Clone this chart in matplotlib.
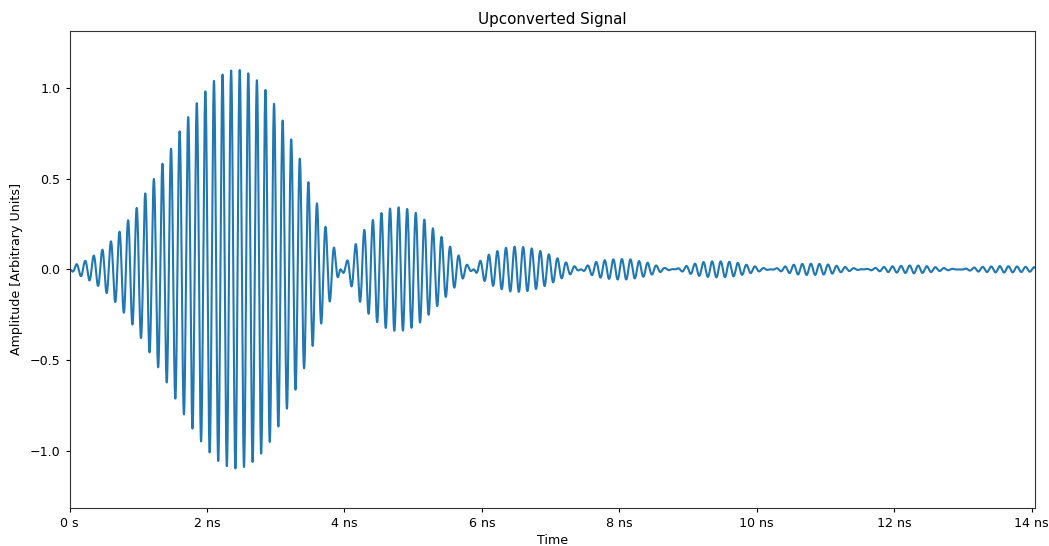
import numpy as np
import matplotlib
matplotlib.use("Agg")
import matplotlib.pyplot as plt
from matplotlib.ticker import EngFormatter

# Signed envelope of the upconverted pulse (time in ns)
env_t_ns = [0.00, 0.09, 0.22, 0.34, 0.47, 0.59, 0.72, 0.84, 0.97, 1.09, 1.22,
            1.35, 1.48, 1.60, 1.73, 1.85, 1.98, 2.10, 2.23, 2.35, 2.47, 2.60,
            2.72, 2.85, 2.97, 3.10, 3.22, 3.35, 3.47, 3.60, 3.72, 3.85, 3.94,
            4.04, 4.16, 4.28, 4.41, 4.54, 4.66, 4.79, 4.91, 5.04, 5.16, 5.28,
            5.41, 5.53, 5.66, 5.78, 5.88,
            5.97, 6.10, 6.22, 6.35, 6.48, 6.61, 6.73, 6.86, 6.98, 7.11, 7.23,
            7.36, 7.44,
            7.53, 7.65, 7.78, 7.91, 8.03, 8.16, 8.28, 8.41, 8.53, 8.66, 8.80,
            8.97, 9.09, 9.22, 9.35, 9.47, 9.59, 9.71, 9.83, 9.95, 10.10, 10.21,
            10.44, 10.56, 10.69, 10.81, 10.93, 11.06, 11.19, 11.34, 11.54,
            11.89, 12.04, 12.28, 12.40, 12.52, 12.64, 12.94,
            13.24, 13.54, 13.68, 13.97, 14.05]
env_val = [0.000, 0.027, 0.046, 0.073, 0.106, 0.150, 0.205, 0.265, 0.335, 0.412,
           0.494, 0.582, 0.668, 0.760, 0.842, 0.916, 0.983, 1.038, 1.075, 1.095,
           1.099, 1.080, 1.044, 0.989, 0.916, 0.820, 0.720, 0.610, 0.485, 0.363,
           0.238, 0.119, 0.000,
           -0.049, -0.137, -0.214, -0.271, -0.311, -0.335, -0.342, -0.333,
           -0.311, -0.275, -0.229, -0.180, -0.128, -0.077, -0.027, 0.000,
           0.046, 0.081, 0.100, 0.119, 0.125, 0.123, 0.115, 0.100, 0.082, 0.059,
           0.037, 0.015, 0.000,
           -0.020, -0.040, -0.050, -0.055, -0.057, -0.055, -0.046, -0.037,
           -0.022, -0.008, 0.000,
           0.018, 0.031, 0.040, 0.044, 0.044, 0.042, 0.037, 0.027, 0.018, 0.007,
           0.000,
           -0.018, -0.027, -0.031, -0.031, -0.030, -0.026, -0.018, -0.010, 0.000,
           0.015, 0.018, 0.022, 0.020, 0.016, 0.010, 0.000,
           -0.013, -0.018, -0.017, -0.013, -0.012]

carrier_freq_ghz = 8.0      # carrier frequency read from cycle spacing
carrier_peak_ns = 2.475     # time of a carrier crest

t_ns = np.linspace(0, env_t_ns[-1], 20000)
envelope = np.interp(t_ns, env_t_ns, env_val)
signal = envelope * np.cos(2 * np.pi * carrier_freq_ghz * (t_ns - carrier_peak_ns))
t_s = t_ns * 1e-9

plt.rcParams["font.size"] = 9.1
plt.rcParams["xtick.major.size"] = 3.2
plt.rcParams["ytick.major.size"] = 3.2
plt.rcParams["axes.edgecolor"] = "#333333"

fig = plt.figure(figsize=(10.49, 5.46), dpi=100)
ax = fig.add_axes([0.0664, 0.0696, 0.9867 - 0.0664, 0.9438 - 0.0696])
ax.plot(t_s, signal, color="#1f77b4", linewidth=1.5)
ax.set_xlim(0, env_t_ns[-1] * 1e-9)
ax.set_ylim(-1.315, 1.315)
ax.xaxis.set_major_formatter(EngFormatter(unit="s"))
ax.set_title("Upconverted Signal", pad=5)
ax.set_xlabel("Time", labelpad=3)
ax.set_ylabel("Amplitude [Arbitrary Units]", labelpad=5)
fig.savefig("out.png", dpi=100)
